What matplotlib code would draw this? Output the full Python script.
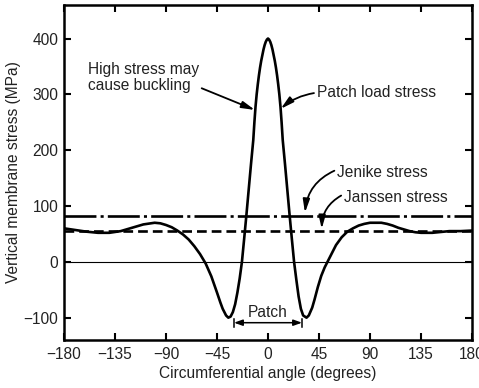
import matplotlib
matplotlib.use("Agg")
import matplotlib.pyplot as plt

plt.rcParams['font.family'] = ['Liberation Sans', 'DejaVu Sans']
plt.rcParams['lines.scale_dashes'] = False

# Circumferential angle (degrees) and vertical membrane stress (MPa)
angle = [-180, -170, -160, -150, -140, -130, -120, -110, -100, -95, -90, -85,
         -80, -75, -70, -65, -60, -55, -50, -45, -42, -40, -37, -35, -33, -31,
         -29, -27, -25, -23, -21, -19, -17, -15, -13, -12, -11, -10, -9, -8,
         -7, -6, -5, -4, -3, -2, -1, 0, 1, 2, 3, 4, 5, 6, 7, 8, 9, 10, 11, 12,
         13, 15, 17, 19, 21, 23, 25, 27, 29, 31, 34, 36, 39, 41, 44, 47, 50,
         53, 55, 60, 65, 70, 75, 80, 85, 90, 95, 100, 105, 110, 115, 120, 125,
         130, 135, 140, 145, 150, 160, 170, 180]
stress = [60, 57, 54, 52, 52, 55, 61, 67, 70, 69, 66, 62,
          56, 49, 40, 28, 14, -3, -26, -55, -73, -84, -96, -100, -98, -90,
          -76, -55, -30, 0, 42, 85, 130, 175, 218, 250, 278, 300, 318, 334,
          348, 360, 370, 380, 388, 394, 398, 400, 398, 394, 388, 380, 370, 360,
          348, 334, 318, 300, 278, 250,
          218, 175, 130, 85, 42, 0, -32, -62, -84, -96, -100, -96, -82, -68,
          -45, -25, -10, 2, 10, 30, 44, 54, 60, 65, 68, 70, 70, 70, 68, 65,
          61, 58, 55, 53, 52, 52, 52, 53, 55, 55, 56]

jenike_stress = 82
janssen_stress = 56
patch_half_width = 30

x_ticks = [-180, -135, -90, -45, 0, 45, 90, 135, 180]
y_ticks = [-100, 0, 100, 200, 300, 400]

FS = 11.2
TXT = '#222222'

fig = plt.figure(figsize=(4.79, 3.88), dpi=100)
ax = fig.add_axes([0.1336, 0.1237, 0.8518, 0.8634])

ax.axhline(0, color='black', lw=0.8)
ax.axhline(jenike_stress, color='black', lw=1.9, dashes=(23, 3, 2.2, 3))
ax.axhline(janssen_stress, color='black', lw=1.9, dashes=(7, 3.6))
ax.plot(angle, stress, color='black', lw=1.9, solid_joinstyle='round')

ax.set_xlim(-180, 180)
ax.set_ylim(-140, 460)
ax.set_xticks(x_ticks)
ax.set_yticks(y_ticks)
ax.tick_params(direction='in', length=5, width=1.5, labelsize=FS,
               top=True, right=True, labeltop=False, labelright=False,
               colors='black', labelcolor=TXT)
ax.tick_params(axis='x', pad=5)
ax.tick_params(axis='y', pad=4)
for s in ax.spines.values():
    s.set_linewidth(1.8)

ax.set_xlabel('Circumferential angle (degrees)', fontsize=FS, color=TXT, labelpad=3)
ax.set_ylabel('Vertical membrane stress (MPa)', fontsize=FS, color=TXT, labelpad=2)

arrow = dict(arrowstyle='-|>,head_length=0.7,head_width=0.18', color='black',
             lw=1.3, shrinkA=0, shrinkB=0)

ax.annotate('High stress may\ncause buckling', xy=(-11.5, 272), xytext=(-159, 330),
            fontsize=FS, color=TXT, va='center', ha='left',
            linespacing=1.15, arrowprops=dict(arrow, relpos=(1.0, 0.2)))
ax.annotate('Patch load stress', xy=(11.2, 274), xytext=(43, 303),
            fontsize=FS, color=TXT, va='center', ha='left',
            arrowprops=dict(arrow, relpos=(0.0, 0.5),
                            connectionstyle='arc3,rad=0.15'))
ax.annotate('Jenike stress', xy=(32.6, 88), xytext=(61, 160),
            fontsize=FS, color=TXT, va='center', ha='left',
            arrowprops=dict(arrow, relpos=(0.0, 0.7),
                            connectionstyle='arc3,rad=0.3'))
ax.annotate('Janssen stress', xy=(47.4, 59), xytext=(67, 116),
            fontsize=FS, color=TXT, va='center', ha='left',
            arrowprops=dict(arrow, relpos=(0.0, 0.7),
                            connectionstyle='arc3,rad=0.3'))

# Patch extent bracket
ax.annotate('', xy=(-patch_half_width, -109), xytext=(patch_half_width, -109),
            arrowprops=dict(arrowstyle='<|-|>,head_length=0.5,head_width=0.18',
                            color='black', lw=1.1, shrinkA=0, shrinkB=0))
for xe in (-patch_half_width, patch_half_width):
    ax.plot([xe, xe], [-102, -116], color='black', lw=1.1)
ax.text(0, -91, 'Patch', fontsize=FS, color=TXT, ha='center', va='center')

fig.savefig('out.png', dpi=100)
